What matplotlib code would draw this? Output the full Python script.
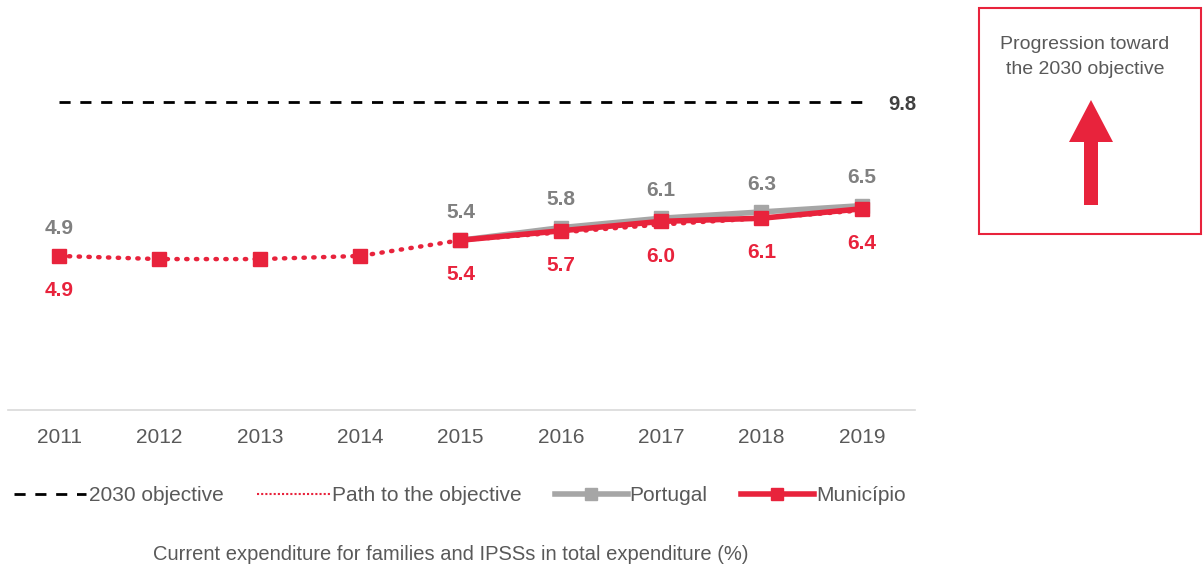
import matplotlib.pyplot as plt
from matplotlib.patches import Rectangle, FancyArrow
from matplotlib.lines import Line2D

plt.rcParams['font.family'] = ['Liberation Sans', 'DejaVu Sans']

anos = [2011, 2012, 2013, 2014, 2015, 2016, 2017, 2018, 2019]
objetivo = 9.8
caminho = [4.9, 4.8, 4.8, 4.9, 5.4, 5.65, 5.9, 6.1, 6.35]
anos_pt = [2015, 2016, 2017, 2018, 2019]
portugal = [5.4, 5.8, 6.1, 6.3, 6.5]
municipio = [4.9, 4.8, 4.8, 4.9, 5.4, 5.7, 6.0, 6.1, 6.4]
rotulos_mun = [2011, 2015, 2016, 2017, 2018, 2019]

vermelho = '#e8233c'
cinza = '#a6a6a6'
cinza_txt = '#808080'

fig = plt.figure(figsize=(12.03, 5.67), dpi=100)
ax = fig.add_axes([0.0066, 0.277, 0.754, 0.582])

# linha do objetivo
ax.plot([anos[0], anos[-1]], [objetivo, objetivo], color='black', lw=2, dashes=(4, 3.5))
ax.annotate(f'{objetivo:.1f}', (anos[-1] + 0.4, objetivo), xytext=(0, -2), textcoords='offset points',
            fontsize=14.5, fontweight='bold', color='#404040', ha='center', va='center')

# caminho pontilhado
ax.plot(anos, caminho, color=vermelho, lw=3.2, linestyle=(0, (0.3, 1.9)), dash_capstyle='round')

# Portugal
ax.plot(anos_pt, portugal, color=cinza, lw=4, marker='s', ms=10)

# Municipio: linha so a partir de 2015, marcadores em todos os anos
i0 = anos.index(2015)
ax.plot(anos[i0:], municipio[i0:], color=vermelho, lw=4, marker='s', ms=10)
ax.plot(anos[:i0], municipio[:i0], color=vermelho, lw=0, marker='s', ms=10)

for a, v in zip([2011] + anos_pt, [4.9] + portugal):
    ax.annotate(f'{v:.1f}', (a, v), xytext=(0, 20), textcoords='offset points',
                ha='center', va='center', fontsize=15, fontweight='bold', color=cinza_txt)
for a in rotulos_mun:
    v = municipio[anos.index(a)]
    ax.annotate(f'{v:.1f}', (a, v), xytext=(0, -25), textcoords='offset points',
                ha='center', va='center', fontsize=15, fontweight='bold', color=vermelho)

ax.set_xlim(2010.49, 2019.53)
ax.set_ylim(0, 10.5)
ax.set_xticks(anos)
ax.set_xticklabels([str(a) for a in anos])
ax.tick_params(axis='x', length=0, pad=13, labelsize=15, labelcolor='#595959')
ax.set_yticks([])
for lado in ['top', 'right', 'left']:
    ax.spines[lado].set_visible(False)
ax.spines['bottom'].set_color('#d9d9d9')
ax.spines['bottom'].set_linewidth(1.2)

# legenda
handles = [
    Line2D([], [], color='black', lw=2, dashes=(4, 3.5)),
    Line2D([], [], color=vermelho, lw=1.5, linestyle=(0, (1, 1))),
    Line2D([], [], color=cinza, lw=4, marker='s', ms=8),
    Line2D([], [], color=vermelho, lw=4, marker='s', ms=8),
]
nomes = ['2030 objective', 'Path to the objective', 'Portugal', 'Município']
fig.legend(handles, nomes, loc='center', bbox_to_anchor=(0.382, 0.126), ncol=4,
           frameon=False, fontsize=15, handlelength=3.5, handletextpad=0.1,
           columnspacing=1.6, labelcolor='#595959')

fig.text(0.375, 1 - 555 / 567, 'Current expenditure for families and IPSSs in total expenditure (%)',
         ha='center', va='center', fontsize=14.5, color='#595959')

# caixa da direita
fig.patches.append(Rectangle((979 / 1203, 1 - 234 / 567), 222 / 1203, 226 / 567,
                             transform=fig.transFigure, fill=False, edgecolor=vermelho, lw=1.5))
fig.text(1085 / 1203, 1 - 57 / 567, 'Progression toward\nthe 2030 objective', ha='center',
         va='center', fontsize=14, color='#595959', linespacing=1.65)
fig.patches.append(FancyArrow(1091 / 1203, 1 - 205 / 567, 0, 105 / 567, width=14 / 1203,
                              head_width=44 / 1203, head_length=42 / 567, length_includes_head=True,
                              transform=fig.transFigure, color=vermelho, lw=0))

fig.savefig('out.png', dpi=100)
